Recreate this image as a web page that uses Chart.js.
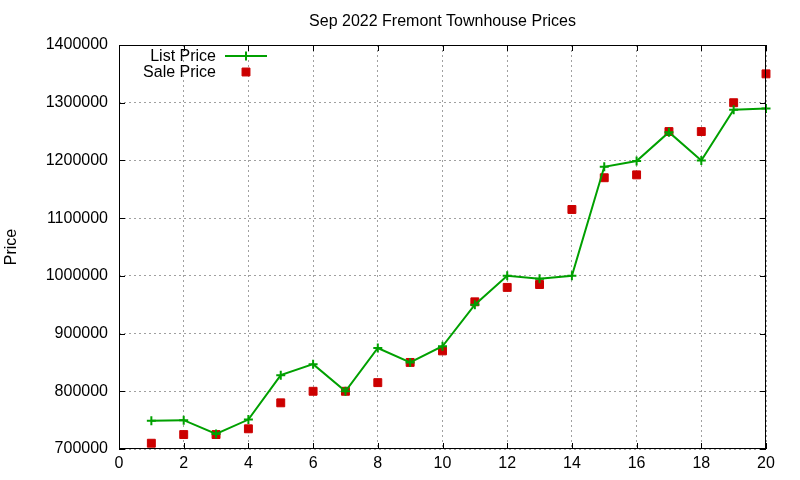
<!DOCTYPE html>
<html>
<head>
<meta charset="utf-8">
<script src="https://cdn.jsdelivr.net/npm/chart.js@4.4.0/dist/chart.umd.min.js"></script>
<style>
  html, body { margin: 0; padding: 0; background: #fff; }
  #wrap { width: 800px; height: 480px; }
</style>
</head>
<body>
<div id="wrap"><canvas id="chart" width="800" height="480"></canvas></div>
<script>
const chartTitle = 'Sep 2022 Fremont Townhouse Prices';
const yAxisLabel = 'Price';
const houseIndex = [1, 2, 3, 4, 5, 6, 7, 8, 9, 10, 11, 12, 13, 14, 15, 16, 17, 18, 19, 20];
const listPrices = [749000, 750000, 726000, 751000, 828000, 847000, 800000, 875000, 850000, 878000,
  950000, 1000000, 995000, 1000000, 1189000, 1199000, 1249000, 1200000, 1288000, 1290000];
const salePrices = [710000, 725000, 725000, 735000, 780000, 800000, 800000, 815000, 850000, 870000,
  955000, 980000, 985000, 1115000, 1170000, 1175000, 1250000, 1250000, 1300000, 1350000];
const xTicks = { min: 0, max: 20, step: 2 };
const yTicks = { min: 700000, max: 1400000, step: 100000 };

const FONT = 'Liberation Sans, Arial, sans-serif';
const GREEN = '#00a000';
const RED = '#cc0000';

const toPoints = values => values.map((v, i) => ({ x: houseIndex[i], y: v }));

// gnuplot style frame with inward ticks on all four sides, plus title and key
const gnuplotFrame = {
  id: 'gnuplotFrame',
  afterDraw(chart) {
    const { ctx, chartArea: a, scales: { x, y } } = chart;
    ctx.save();
    ctx.strokeStyle = '#000';
    ctx.lineWidth = 1;
    ctx.strokeRect(a.left + 0.5, a.top + 0.5, a.right - a.left - 1, a.bottom - a.top - 1);
    ctx.beginPath();
    const tl = 6;
    x.ticks.forEach(t => {
      const px = Math.round(x.getPixelForValue(t.value)) + 0.5;
      ctx.moveTo(px, a.bottom); ctx.lineTo(px, a.bottom - tl);
      ctx.moveTo(px, a.top); ctx.lineTo(px, a.top + tl);
    });
    y.ticks.forEach(t => {
      const py = Math.round(y.getPixelForValue(t.value)) + 0.5;
      ctx.moveTo(a.left, py); ctx.lineTo(a.left + tl, py);
      ctx.moveTo(a.right, py); ctx.lineTo(a.right - tl, py);
    });
    ctx.stroke();

    // title
    ctx.fillStyle = '#000';
    ctx.font = `16px ${FONT}`;
    ctx.textAlign = 'center';
    ctx.textBaseline = 'middle';
    ctx.fillText(chartTitle, (a.left + a.right) / 2, 22);

    // key
    const textRight = a.left + 97;
    const sampleX = a.left + 127;
    chart.data.datasets.forEach((ds, i) => {
      const ky = a.top + 11 + i * 16;
      ctx.fillStyle = '#000';
      ctx.textAlign = 'right';
      ctx.fillText(ds.label, textRight, ky + 1);
      if (ds.showLine !== false) {
        ctx.strokeStyle = ds.borderColor;
        ctx.lineWidth = ds.borderWidth;
        ctx.beginPath();
        ctx.moveTo(sampleX - 21, ky); ctx.lineTo(sampleX + 21, ky);
        ctx.stroke();
      }
      ctx.fillStyle = ds.pointBackgroundColor;
      ctx.strokeStyle = ds.pointBorderColor;
      ctx.lineWidth = ds.pointBorderWidth;
      ctx.beginPath();
      if (ds.pointStyle === 'rect') {
        const s = Math.SQRT1_2 * ds.pointRadius;
        ctx.rect(sampleX - s, ky - s, 2 * s, 2 * s);
        ctx.fill();
        ctx.stroke();
      } else {
        ctx.moveTo(sampleX - ds.pointRadius, ky); ctx.lineTo(sampleX + ds.pointRadius, ky);
        ctx.moveTo(sampleX, ky - ds.pointRadius); ctx.lineTo(sampleX, ky + ds.pointRadius);
        ctx.stroke();
      }
    });
    ctx.restore();
  },
};

new Chart(document.getElementById('chart'), {
  type: 'scatter',
  data: {
    datasets: [
      {
        label: 'List Price',
        data: toPoints(listPrices),
        showLine: true,
        borderColor: GREEN,
        backgroundColor: GREEN,
        borderWidth: 2,
        tension: 0,
        pointStyle: 'cross',
        pointRadius: 4.5,
        pointBorderWidth: 2,
        pointBorderColor: GREEN,
        pointBackgroundColor: GREEN,
        clip: false,
      },
      {
        label: 'Sale Price',
        data: toPoints(salePrices),
        showLine: false,
        borderColor: RED,
        backgroundColor: RED,
        pointStyle: 'rect',
        pointRadius: 5.6,
        pointBorderWidth: 1,
        pointBorderColor: RED,
        pointBackgroundColor: RED,
        clip: false,
      },
    ],
  },
  options: {
    responsive: false,
    animation: false,
    layout: { padding: { top: 45, right: 34, left: 0, bottom: 0 } },
    plugins: {
      legend: { display: false },
      title: { display: false },
      tooltip: { enabled: false },
    },
    scales: {
      x: {
        type: 'linear',
        min: xTicks.min,
        max: xTicks.max,
        ticks: {
          stepSize: xTicks.step,
          color: '#000',
          font: { family: FONT, size: 16 },
          padding: 5,
          maxRotation: 0,
        },
        grid: { color: '#a0a0a0', lineWidth: 1, drawTicks: false },
        border: { display: false, dash: [2, 3] },
        afterFit: scale => { scale.height = 31; },
      },
      y: {
        type: 'linear',
        min: yTicks.min,
        max: yTicks.max,
        ticks: {
          stepSize: yTicks.step,
          color: '#000',
          font: { family: FONT, size: 16 },
          padding: 11,
          callback: value => String(value),
        },
        title: {
          display: true,
          text: yAxisLabel,
          color: '#000',
          font: { family: FONT, size: 16 },
          padding: { top: 2, bottom: 0 },
        },
        grid: { color: '#a0a0a0', lineWidth: 1, drawTicks: false },
        border: { display: false, dash: [2, 3] },
        afterFit: scale => { scale.width = 119; },
      },
    },
  },
  plugins: [gnuplotFrame],
});
</script>
</body>
</html>
